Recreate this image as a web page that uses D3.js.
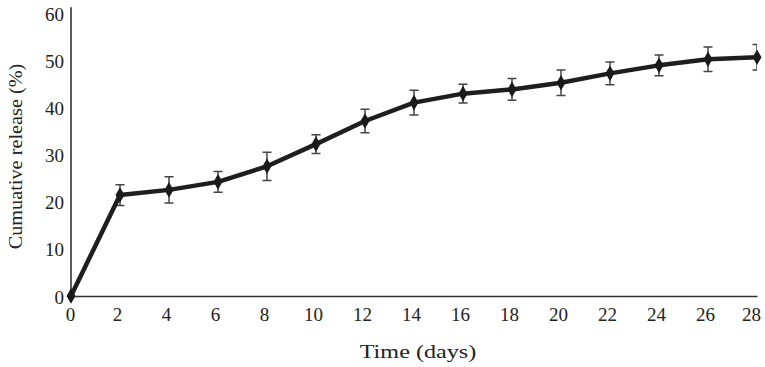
<!DOCTYPE html>
<html>
<head>
<meta charset="utf-8">
<script src="https://cdn.jsdelivr.net/npm/d3@7"></script>
<style>
  html, body { margin: 0; padding: 0; background: #fff; }
  svg text { font-family: "Liberation Serif", "Times New Roman", "DejaVu Serif", serif; fill: #222; }
</style>
</head>
<body>
<div id="chart"></div>
<script>
// 数据
const days = [0, 2, 4, 6, 8, 10, 12, 14, 16, 18, 20, 22, 24, 26, 28];
const release = [0, 21.4, 22.5, 24.2, 27.5, 32.2, 37.1, 41.0, 42.9, 43.8, 45.2, 47.2, 48.9, 50.2, 50.6];
const errors = [0, 2.2, 2.8, 2.2, 3.0, 2.0, 2.5, 2.6, 2.0, 2.3, 2.7, 2.4, 2.2, 2.6, 2.7];
const xTicks = [0, 2, 4, 6, 8, 10, 12, 14, 16, 18, 20, 22, 24, 26, 28];
const yTicks = [0, 10, 20, 30, 40, 50, 60];

const width = 765;
const height = 367;
const margin = { top: 13, right: 8, bottom: 71, left: 71 };

const data = days.map((d, i) => ({ day: d, value: release[i], err: errors[i] }));

const svg = d3.select('#chart')
  .append('svg')
  .attr('width', width)
  .attr('height', height);

// 比例尺
const x = d3.scaleLinear()
  .domain([0, 28])
  .range([margin.left, width - margin.right]);

const y = d3.scaleLinear()
  .domain([0, 60])
  .range([height - margin.bottom, margin.top]);

// X轴
const xAxis = svg.append('g')
  .attr('class', 'axis axis-x')
  .attr('transform', `translate(0, ${y(0)})`)
  .call(d3.axisBottom(x).tickValues(xTicks).tickSize(0).tickPadding(0));
xAxis.select('.domain').attr('stroke', '#333').attr('stroke-width', 1.6);
xAxis.selectAll('.tick text')
  .attr('y', 0)
  .attr('dy', 0)
  .attr('transform', d => `translate(${d === 28 ? -6 : (d === 0 ? -1 : -3)}, 25)`)
  .style('font-size', '19px');

// Y轴
const yAxis = svg.append('g')
  .attr('class', 'axis axis-y')
  .attr('transform', `translate(${x(0)}, 0)`)
  .call(d3.axisLeft(y).tickValues(yTicks).tickSize(0).tickPadding(0));
yAxis.select('.domain')
  .attr('d', `M0,${y(0)}V${y(61.2)}`)
  .attr('stroke', '#333').attr('stroke-width', 1.6);
yAxis.selectAll('.tick text')
  .attr('x', 0)
  .attr('dy', 0)
  .attr('transform', 'translate(-7, 7)')
  .style('font-size', '19px');

// 轴标题
svg.append('text')
  .attr('transform', `translate(${(x(0) + x(28)) / 2 + 4}, 358) scale(1.24, 1)`)
  .attr('text-anchor', 'middle')
  .style('font-size', '19.5px')
  .text('Time (days)');

svg.append('text')
  .attr('transform', `translate(22, ${(y(0) + y(60)) / 2 + 2}) rotate(-90) scale(1.04, 1)`)
  .attr('text-anchor', 'middle')
  .style('font-size', '19.5px')
  .text('Cumuative release (%)');

// 误差线（右端裁剪）
svg.append('clipPath')
  .attr('id', 'plot-clip')
  .append('rect')
  .attr('x', 0).attr('y', 0)
  .attr('width', x(28)).attr('height', height);

const bars = svg.append('g')
  .attr('clip-path', 'url(#plot-clip)')
  .attr('stroke', '#444')
  .attr('stroke-width', 1.5)
  .attr('fill', 'none');

const capW = 4.5;
bars.selectAll('.err')
  .data(data.filter(d => d.err > 0))
  .enter()
  .append('path')
  .attr('class', 'err')
  .attr('d', d => {
    const cx = x(d.day), t = y(d.value + d.err), b = y(d.value - d.err);
    return `M${cx},${t}V${b}M${cx - capW},${t}H${cx + capW}M${cx - capW},${b}H${cx + capW}`;
  });

// 折线
const line = d3.line()
  .x(d => x(d.day))
  .y(d => y(d.value));

svg.append('path')
  .datum(data)
  .attr('class', 'line')
  .attr('d', line)
  .attr('fill', 'none')
  .attr('stroke', '#1e1e1e')
  .attr('stroke-width', 4.5)
  .attr('stroke-linejoin', 'round');

// 数据点（菱形）
const diamond = d3.symbol().type(d3.symbolDiamond).size(70);
svg.selectAll('.dot')
  .data(data)
  .enter()
  .append('path')
  .attr('class', 'dot')
  .attr('transform', d => `translate(${x(d.day)}, ${y(d.value)})`)
  .attr('d', diamond)
  .attr('fill', '#1a1a1a');
</script>
</body>
</html>
